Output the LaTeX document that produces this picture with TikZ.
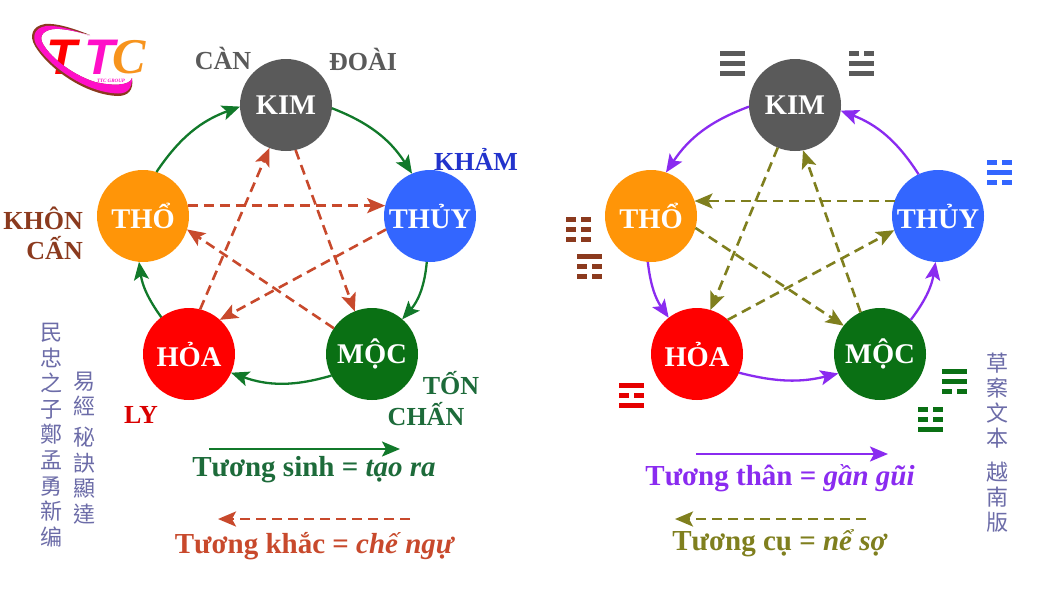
\documentclass[tikz,border=0pt]{standalone}
\usepackage{fontspec}
\setmainfont{Liberation Serif}
\newfontfamily\cjk{Noto Sans CJK TC}
\newfontfamily\logofont{Liberation Sans}
\usetikzlibrary{arrows.meta}
\definecolor{ckim}{HTML}{5A5A5A}
\definecolor{ctho}{HTML}{FF9508}
\definecolor{cthuy}{HTML}{3366FF}
\definecolor{choa}{HTML}{FF0000}
\definecolor{cmoc}{HTML}{0A7014}
\definecolor{cgreen}{HTML}{11792A}
\definecolor{cred}{HTML}{C8492C}
\definecolor{cpurple}{HTML}{8A2BF0}
\definecolor{colive}{HTML}{7F7F1E}
\definecolor{cbrown}{HTML}{8B3A1E}
\definecolor{cdarkgreen}{HTML}{1D6B3A}
\definecolor{cink}{HTML}{6C6CA8}
\definecolor{cpink}{HTML}{FF0FC8}
\definecolor{clogoc}{HTML}{F7941D}
\definecolor{ckham}{HTML}{2233CC}
\tikzset{
  element/.style={circle,minimum size=92pt,inner sep=0pt,outer sep=0pt,text=white,font=\bfseries\fontsize{28.5}{28.5}\selectfont},
  tip/.style={-{Stealth[length=18pt,width=15pt,inset=4pt]}},
  solidarrow/.style={tip,line width=2.3pt},
  dasharrow/.style={tip,line width=2.6pt,dash pattern=on 10pt off 6pt},
  gua/.style={font=\bfseries\fontsize{26}{26}\selectfont},
  legend/.style={font=\bfseries\fontsize{29}{29}\selectfont},
  hanzi/.style={text=cink,align=center,inner sep=0pt,font=\cjk\fontsize{22}{25.6}\selectfont},
  logoT/.style={inner sep=0pt,font=\logofont\bfseries\itshape\fontsize{50}{50}\selectfont},
}
% trigram: centre x, centre y, colour, top/middle/bottom (1 solid, 0 broken)
\newcommand{\guabar}[4]{%
  \ifnum#4=1
    \fill[#3] (#1-12.5,#2-2.5) rectangle (#1+12.5,#2+2.5);
  \else
    \fill[#3] (#1-12.5,#2-2.5) rectangle (#1-2.5,#2+2.5);
    \fill[#3] (#1+2.5,#2-2.5) rectangle (#1+12.5,#2+2.5);
  \fi}
\newcommand{\trigram}[6]{%
  \guabar{#1}{#2-10}{#3}{#4}\guabar{#1}{#2}{#3}{#5}\guabar{#1}{#2+10}{#3}{#6}}
\begin{document}
\begin{tikzpicture}[x=1pt,y=-1pt]
\useasboundingbox (0,0) rectangle (1040,600);
\fill[white] (0,0) rectangle (1040,600);

% logo
\node[logoT,text=red] (logoa) at (62,57) {T};
\node[logoT,text=cpink] (logob) at (100,57) {T};
\node[inner sep=0pt,text=clogoc,font=\bfseries\itshape\fontsize{50}{50}\selectfont] (logoc) at (129,57) {C};
\fill[cbrown] (90,35) .. controls (70,27) and (55,23) .. (45,24)
  .. controls (32,26) and (29,36) .. (35,46)
  .. controls (48,68) and (85,95) .. (118,96)
  .. controls (128,96) and (134,90) .. (132,78)
  .. controls (130,86) and (112,86) .. (95,82)
  .. controls (70,74) and (48,55) .. (42,42)
  .. controls (38,32) and (50,28) .. (60,29)
  .. controls (72,30) and (82,33) .. (90,35) -- cycle;
\fill[cpink] (90,36) .. controls (70,28.5) and (55,25) .. (46,26)
  .. controls (34,28) and (31.5,37) .. (37,46)
  .. controls (50,66) and (85,92.5) .. (118,93.5)
  .. controls (127,93.5) and (132,89) .. (132,78)
  .. controls (130,86) and (112,86) .. (95,82)
  .. controls (70,74) and (48,55) .. (42,42)
  .. controls (38,32) and (50,28) .. (60,29)
  .. controls (72,30) and (82,33) .. (90,36) -- cycle;
\node[inner sep=0pt,text=cpink,font=\bfseries\itshape\fontsize{5}{5}\selectfont] (logod) at (111,81) {TTC GROUP};

% left wheel
\node[element,fill=ckim]  (kima) at (286,105) {KIM};
\node[element,fill=ctho]  (thoa) at (143,216) {THỔ};
\node[element,fill=cthuy] (thua) at (430,216) {THỦY};
\node[element,fill=choa]  (hoaa) at (189,354) {HỎA};
\node[element,fill=cmoc]  (moca) at (372,354) {MỘC};

\draw[solidarrow,cgreen] (thoa.73) to[bend left=18] (kima.182);
\draw[solidarrow,cgreen] (kima.356) to[bend left=18] (thua.113);
\draw[solidarrow,cgreen] (thua.266) to[bend left=18] (moca.49);
\draw[solidarrow,cgreen] (moca.208) to[bend left=18] (hoaa.336);
\draw[solidarrow,cgreen] (hoaa.127) to[bend left=14] (thoa.265);

\draw[dasharrow,cred] (thoa.13) -- (thua.167);
\draw[dasharrow,cred] (thua.197) -- (hoaa.48);
\draw[dasharrow,cred] (hoaa.76) -- (kima.249);
\draw[dasharrow,cred] (kima.282) -- (moca.112);
\draw[dasharrow,cred] (moca.146) -- (thoa.343);

\node[gua,text=ckim] (lcan) at (223,58) {CÀN};
\node[gua,text=ckim] (ldoai) at (363,59) {ĐOÀI};
\node[gua,text=ckham] (lkham) at (476,159) {KHẢM};
\node[gua,text=cbrown,anchor=east,inner sep=0pt] (lkhon) at (83,218) {KHÔN};
\node[gua,text=cbrown,anchor=east,inner sep=0pt] (lcn) at (83,248) {CẤN};
\node[gua,text=red!85!black] (lly) at (141,415) {LY};
\node[gua,text=cdarkgreen] (lton) at (451,383) {TỐN};
\node[gua,text=cdarkgreen] (lchan) at (426,414) {CHẤN};

\coordinate (sa) at (209,449); \coordinate (sb) at (400,449);
\draw[solidarrow,cgreen] (sa) -- (sb);
\node[legend,text=cdarkgreen] (lsinh) at (314,469.5) {Tương sinh = \textit{tạo ra}};
\coordinate (ka) at (410,519); \coordinate (kb) at (218,519);
\draw[dasharrow,cred] (ka) -- (kb);
\node[legend,text=cred] (lkhac) at (315,546) {Tương khắc = \textit{chế ngự}};

\node[hanzi] (cola) at (51,435) {民\\忠\\之\\子\\鄭\\孟\\勇\\新\\编};
\node[hanzi] (colb) at (84,448) {易\\經\\[5pt]秘\\訣\\顯\\達};

% right wheel
\node[element,fill=ckim]  (kimb) at (795,105) {KIM};
\node[element,fill=ctho]  (thob) at (651,216) {THỔ};
\node[element,fill=cthuy] (thub) at (938,216) {THỦY};
\node[element,fill=choa]  (hoab) at (697,354) {HỎA};
\node[element,fill=cmoc]  (mocb) at (880,354) {MỘC};

\draw[solidarrow,cpurple] (kimb.182) to[bend right=18] (thob.71);
\draw[solidarrow,cpurple] (thub.115) to[bend right=18] (kimb.353);
\draw[solidarrow,cpurple] (thob.266) to[bend right=14] (hoab.128);
\draw[solidarrow,cpurple] (hoab.336) to[bend right=14] (mocb.205);
\draw[solidarrow,cpurple] (mocb.48) to[bend right=14] (thub.267);

\draw[dasharrow,colive] (thub.161) -- (thob.19);
\draw[dasharrow,colive] (kimb.248) -- (hoab.73);
\draw[dasharrow,colive] (mocb.115) -- (kimb.280);
\draw[dasharrow,colive] (hoab.48) -- (thub.198);
\draw[dasharrow,colive] (thob.345) -- (mocb.142);

\trigram{732}{63}{ckim}{1}{1}{1}
\trigram{861}{63}{ckim}{0}{1}{1}
\trigram{999.5}{172}{cthuy}{0}{1}{0}
\trigram{578}{229}{cbrown}{0}{0}{0}
\trigram{589}{266}{cbrown}{1}{0}{0}
\trigram{631}{395}{red!90!black}{1}{0}{1}
\trigram{954}{381}{cmoc}{1}{1}{0}
\trigram{930}{419}{cmoc}{0}{0}{1}

\coordinate (ta) at (696,454); \coordinate (tb) at (888,454);
\draw[solidarrow,cpurple] (ta) -- (tb);
\node[legend,text=cpurple] (lthan) at (780,478) {Tương thân = \textit{gần gũi}};
\coordinate (ca) at (866,519); \coordinate (cb) at (675,519);
\draw[dasharrow,colive] (ca) -- (cb);
\node[legend,text=colive] (lcu) at (780,543) {Tương cụ = \textit{nể sợ}};

\node[hanzi,font=\cjk\fontsize{22}{25}\selectfont] (colc) at (997,443) {草\\案\\文\\本\\[9pt]越\\南\\版};
\end{tikzpicture}
\end{document}
